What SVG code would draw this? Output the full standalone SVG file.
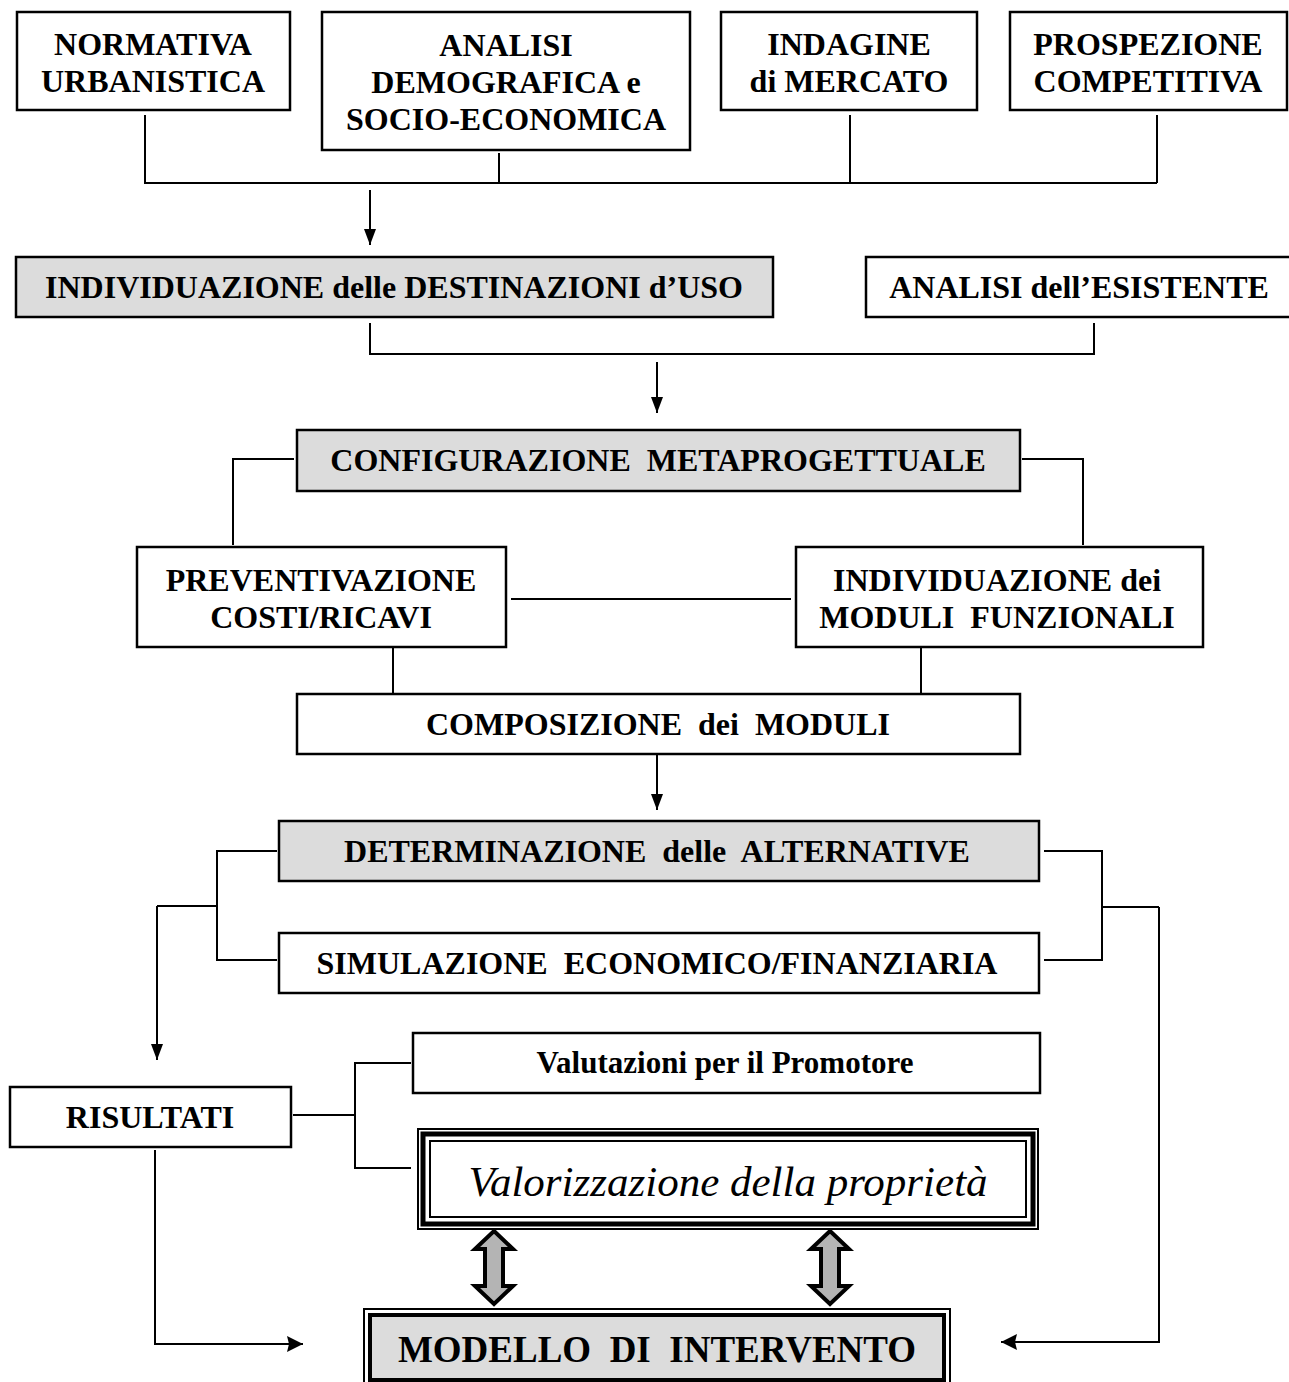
<svg xmlns="http://www.w3.org/2000/svg" width="1289" height="1382" viewBox="0 0 1289 1382">
<defs>
<style>
.box{fill:#fff;stroke:#000;stroke-width:2.5}
.gray{fill:#dcdcdc;stroke:#000;stroke-width:2.5}
.t{font-family:"Liberation Serif","Times New Roman",serif;font-weight:bold;font-size:32px;text-anchor:middle;fill:#000}
.ln{fill:none;stroke:#000;stroke-width:2}
.dbl{fill:#b4b4b4;stroke:#000;stroke-width:4;stroke-linejoin:miter}
</style>
<marker id="ah" viewBox="0 0 16 12" refX="16" refY="6" markerWidth="16" markerHeight="12" markerUnits="userSpaceOnUse" orient="auto">
<path d="M0,0 L16,6 L0,12 z" fill="#000"/>
</marker>
<marker id="ahB" viewBox="0 0 16 16" refX="16" refY="8" markerWidth="16" markerHeight="16" markerUnits="userSpaceOnUse" orient="auto">
<path d="M0,0 L16,8 L0,16 L2,8 z" fill="#000"/>
</marker>
</defs>
<rect width="1289" height="1382" fill="#fff"/>

<g id="connectors">
<path class="ln" d="M145,115 V183 H1157 M499,153 V183 M850,115 V183 M1157,115 V183"/>
<path class="ln" d="M370,190 V245" marker-end="url(#ah)"/>
<path class="ln" d="M370,323 V354 H1094 V323"/>
<path class="ln" d="M657,362 V413" marker-end="url(#ah)"/>
<path class="ln" d="M294,459 H233 V545 M1022,459 H1083 V545"/>
<path class="ln" d="M511,599 H791"/>
<path class="ln" d="M393,647 V694 M921,647 V694"/>
<path class="ln" d="M657,754 V810" marker-end="url(#ah)"/>
<path class="ln" d="M277,851 H217 V960 H277 M217,906 H157"/>
<path class="ln" d="M157,906 V1060" marker-end="url(#ah)"/>
<path class="ln" d="M1044,851 H1102 V960 H1044 M1102,907 H1159"/>
<path class="ln" d="M1159,907 V1342 H1001" marker-end="url(#ahB)"/>
<path class="ln" d="M411,1063 H355 V1168 H411 M293,1115 H355"/>
<path class="ln" d="M155,1150 V1344 H303" marker-end="url(#ahB)"/>
<path class="dbl" d="M494,1231 L513,1249 L503,1249 L503,1286 L513,1286 L494,1304 L475,1286 L485,1286 L485,1249 L475,1249 Z"/>
<path class="dbl" d="M830,1231 L849,1249 L839,1249 L839,1286 L849,1286 L830,1304 L811,1286 L821,1286 L821,1249 L811,1249 Z"/>
</g>

<g id="normativa">
<rect class="box" x="17" y="12" width="273" height="98"/>
<text class="t" x="153" y="55">NORMATIVA</text>
<text class="t" x="153" y="92">URBANISTICA</text>
</g>
<g id="analisi-demografica">
<rect class="box" x="322" y="12" width="368" height="138"/>
<text class="t" x="506" y="56">ANALISI</text>
<text class="t" x="506" y="93">DEMOGRAFICA e</text>
<text class="t" x="506" y="130">SOCIO-ECONOMICA</text>
</g>
<g id="indagine">
<rect class="box" x="721" y="12" width="256" height="98"/>
<text class="t" x="849" y="55">INDAGINE</text>
<text class="t" x="849" y="92">di MERCATO</text>
</g>
<g id="prospezione">
<rect class="box" x="1010" y="12" width="277" height="98"/>
<text class="t" x="1148" y="55">PROSPEZIONE</text>
<text class="t" x="1148" y="92">COMPETITIVA</text>
</g>

<g id="destinazioni">
<rect class="gray" x="16" y="257" width="757" height="60"/>
<text class="t" x="394" y="298">INDIVIDUAZIONE delle DESTINAZIONI d’USO</text>
</g>
<g id="esistente">
<rect class="box" x="866" y="257" width="426" height="60"/>
<text class="t" x="1079" y="298">ANALISI dell’ESISTENTE</text>
</g>

<g id="configurazione">
<rect class="gray" x="297" y="430" width="723" height="61"/>
<text class="t" x="658" y="471" xml:space="preserve">CONFIGURAZIONE  METAPROGETTUALE</text>
</g>

<g id="preventivazione">
<rect class="box" x="137" y="547" width="369" height="100"/>
<text class="t" x="321" y="591">PREVENTIVAZIONE</text>
<text class="t" x="321" y="628">COSTI/RICAVI</text>
</g>
<g id="moduli-funzionali">
<rect class="box" x="796" y="547" width="407" height="100"/>
<text class="t" x="997" y="591">INDIVIDUAZIONE dei</text>
<text class="t" x="997" y="628" xml:space="preserve">MODULI  FUNZIONALI</text>
</g>

<g id="composizione">
<rect class="box" x="297" y="694" width="723" height="60"/>
<text class="t" x="658" y="735" xml:space="preserve">COMPOSIZIONE  dei  MODULI</text>
</g>

<g id="determinazione">
<rect class="gray" x="279" y="821" width="760" height="60"/>
<text class="t" x="657" y="862" xml:space="preserve">DETERMINAZIONE  delle  ALTERNATIVE</text>
</g>
<g id="simulazione">
<rect class="box" x="279" y="933" width="760" height="60"/>
<text class="t" x="657" y="974" xml:space="preserve">SIMULAZIONE  ECONOMICO/FINANZIARIA</text>
</g>

<g id="valutazioni">
<rect class="box" x="413" y="1033" width="627" height="60"/>
<text class="t" x="725" y="1073" style="font-size:31px">Valutazioni per il Promotore</text>
</g>
<g id="risultati">
<rect class="box" x="10" y="1087" width="281" height="60"/>
<text class="t" x="150" y="1128">RISULTATI</text>
</g>

<g id="valorizzazione">
<rect x="418" y="1129" width="620" height="100" fill="#fff" stroke="#000" stroke-width="2"/>
<rect x="423" y="1134" width="610" height="90" fill="none" stroke="#000" stroke-width="5"/>
<rect x="430" y="1141" width="596" height="76" fill="#fff" stroke="#000" stroke-width="2"/>
<text x="728" y="1196" style="font-family:'Liberation Serif','Times New Roman',serif;font-style:italic;font-size:43px;text-anchor:middle">Valorizzazione della proprietà</text>
</g>

<g id="modello">
<rect x="364" y="1309" width="586" height="80" fill="#fff" stroke="#000" stroke-width="2"/>
<rect x="370" y="1315" width="574" height="65" fill="#dcdcdc" stroke="#000" stroke-width="4"/>
<text class="t" x="657" y="1362" style="font-size:37px" xml:space="preserve">MODELLO  DI  INTERVENTO</text>
</g>
</svg>
